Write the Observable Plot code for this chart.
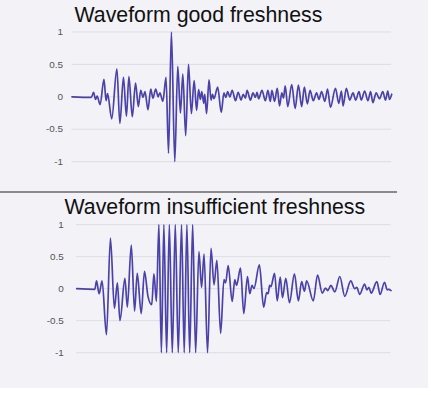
<!DOCTYPE html>
<html>
<head>
<meta charset="utf-8">
<script src="https://cdn.jsdelivr.net/npm/d3@7"></script>
<script src="https://cdn.jsdelivr.net/npm/@observablehq/plot@0.6"></script>
<style>
  html, body { margin: 0; padding: 0; background: #ffffff; }
  #wrap { position: relative; width: 428px; height: 388px; background: #f2f2f7; overflow: hidden; }
  .ttl { position: absolute; font-family: "Liberation Sans", Arial, sans-serif; font-size: 21.3px; line-height: 21.3px; color: #111; white-space: pre; z-index: 2; }
  .sep { position: absolute; left: 0; top: 191px; width: 397px; height: 2px; background: #8a8a8a; }
  .pl { position: absolute; left: 0; }
</style>
</head>
<body>
<div id="wrap"></div>
<script>
// ---- data ----
const titleTop = "Waveform good freshness";
const titleBottom = "Waveform insufficient freshness";
const yTicks = [-1, -0.5, 0, 0.5, 1];

// good freshness: time (samples) and amplitude at turning points
const topT = [72, 91.5, 93.7, 95.7, 97.3, 100.3, 104.2, 106.3, 107.8, 112, 117.2, 120.2, 123.8, 126.8, 129.3, 132.7, 136, 138.8, 141.2, 143.5, 145.5, 148.5, 151.3, 153.5, 156.3, 158.7, 160.5, 163.5, 166.7, 169.2, 172.1, 175.5, 178.5, 181.2, 183.6, 186.5, 189.3, 192.2, 195, 197.5, 199.5, 201.3, 202.7, 204.7,
  205.7, 207.5, 210, 212, 213.5, 215, 218.7, 222.3, 225, 227, 228.7, 231, 233.3, 236.7, 239.3, 242.3, 244.3, 246.7, 248.3, 251.7, 254.3, 256.7, 258.3, 260, 263.3, 266.7, 269.3, 271.7, 273.3, 276, 278.7, 281, 283.3, 285, 286.7, 289.3, 293.3, 296.7, 300, 303.3, 306, 309, 311.7, 315, 318.3, 320.7, 323.3, 326.7, 329.3, 332.3, 337.3, 340.7, 343.3, 345, 348.3, 351.7, 355, 357.7, 361, 363.3, 366.7, 370, 372.7, 375, 378.3, 381.7, 385, 387.7, 390, 391.7, 394];
const topV = [0, -0.01, 0.07, -0.04, 0.01, -0.12, 0.27, -0.06, 0.05, -0.34, 0.43, -0.41, 0.30, -0.30, 0.31, -0.31, 0.21, -0.15, 0.10, -0.01, 0.08, -0.20, 0.12, -0.02, 0.12, 0.0, 0.06, -0.07, 0.30, -0.87, 1.0, -1.0, 0.47, -0.25, 0.35, -0.60, 0.50, -0.26, 0.25, -0.21, 0.11, -0.04, 0.08, -0.10,
  0.04, -0.26, 0.26, -0.05, 0.04, -0.03, 0.15, -0.24, 0.06, -0.01, 0.08, 0.0, 0.10, -0.06, 0.07, -0.05, 0.04, -0.02, 0.10, -0.05, 0.06, -0.01, 0.07, -0.03, 0.10, -0.06, 0.10, -0.07, 0.10, -0.07, 0.13, -0.14, 0.06, -0.02, 0.17, -0.15, 0.19, -0.18, 0.18, -0.15, 0.15, -0.11, 0.10, -0.06, 0.06, -0.04, 0.08, -0.07, 0.12, -0.16, 0.13, -0.10, 0.09, -0.14, 0.13, -0.05, 0.06, -0.05, 0.08, -0.05, 0.09, -0.06, 0.08, -0.09, 0.06, -0.03, 0.08, -0.05, 0.09, -0.04, 0.04];

// insufficient freshness
const botT = [76.7, 95, 96.7, 99.3, 102.3, 106.7, 110.7, 114.7, 117.7, 120.3, 125.3, 127.7, 131.7, 135, 137.7, 141.7, 145, 148.5, 152.3, 154.5, 157, 159.5, 162, 164.5, 167.3, 170, 173, 176, 179, 182.3, 185, 187.7, 190.5, 193.5, 196.5, 199.8, 202.5, 205, 208.5, 212, 215, 217.9, 221.7, 225, 226.7, 229.3, 233.3, 236, 237.7, 241.7, 245, 248.7, 251, 253.3, 255.2, 260.7, 265, 268, 269.5, 271, 272.3, 276, 278.7, 281.7, 284, 287.3, 291, 296, 300, 303.3, 306, 308.3, 315, 319.3, 324, 327.3, 329.5, 332.7, 336.7, 341.7, 346.7, 352.7, 356.7, 358.8, 361.7, 366.7, 369, 371, 373.3, 379, 382.3, 386.7, 389.5, 390.8, 393.3];
const botV = [0, -0.01, 0.12, -0.08, 0.12, -0.72, 0.79, -0.31, 0.09, -0.50, 0.16, -0.29, 0.68, -0.35, 0.24, -0.39, 0.27, -0.12, -0.25, 0.23, -0.20, 1, -1, 1, -1, 1, -1, 1, -1, 1, -1, 1, -1, 1, -1, 0.58, 0.02, 0.54, -1.0, 0.63, 0.06, 0.44, -0.70, 0.14, 0.09, 0.36, -0.20, 0.14, 0.05, 0.32, -0.39, 0.19, -0.08, 0.05, 0.0, 0.37, -0.29, -0.06, -0.08, 0.05, 0.03, 0.24, -0.19, 0.18, -0.14, 0.16, -0.22, 0.23, -0.19, 0.11, -0.04, 0.12, -0.19, 0.21, -0.07, 0.01, -0.03, 0.05, -0.05, 0.19, -0.12, 0.12, 0.0, 0.02, -0.09, 0.07, -0.02, 0.02, -0.07, 0.11, -0.09, 0.10, -0.02, -0.01, -0.03];

// ---- drawing ----
const lineColor = "#4a42a8";
const gridColor = "#dddde3";

function panel(ts, vs, o) {
  const data = ts.map((t, i) => ({t, v: vs[i]}));
  return Plot.plot({
    width: 431,
    height: o.height,
    marginLeft: o.ml, marginRight: o.mr, marginTop: o.mt, marginBottom: o.mb,
    style: {background: "transparent", fontFamily: "'Liberation Sans', Arial, sans-serif", fontSize: "10px", color: "#555", overflow: "visible"},
    x: {domain: [ts[0], ts[ts.length - 1]], axis: null},
    y: {domain: [-1, 1]},
    marks: [
      Plot.gridY(yTicks, {stroke: gridColor, strokeOpacity: 1, strokeWidth: 1}),
      Plot.axisY(yTicks, {tickSize: 0, tickPadding: o.pad, tickFormat: d => String(d), fill: "#555", fontSize: 10, label: null}),
      Plot.line(data, {x: "t", y: "v", stroke: lineColor, strokeWidth: 1.7, curve: "monotone-x"})
    ]
  });
}

const wrap = document.getElementById("wrap");

const t1 = document.createElement("div");
t1.className = "ttl"; t1.textContent = titleTop;
t1.style.left = "74.5px"; t1.style.top = "4.7px";
wrap.appendChild(t1);

const p1 = panel(topT, topV, {height: 180, ml: 72, mr: 37, mt: 31.7, mb: 17.7, pad: 9});
p1.classList.add("pl"); p1.style.top = "0px";
wrap.appendChild(p1);

const sep = document.createElement("div");
sep.className = "sep";
wrap.appendChild(sep);

const t2 = document.createElement("div");
t2.className = "ttl"; t2.textContent = titleBottom;
t2.style.left = "64.5px"; t2.style.top = "197px";
wrap.appendChild(t2);

const p2 = panel(botT, botV, {height: 180, ml: 76.7, mr: 37.7, mt: 28.3, mb: 22.7, pad: 13});
p2.classList.add("pl"); p2.style.top = "196px";
wrap.appendChild(p2);
</script>
</body>
</html>
